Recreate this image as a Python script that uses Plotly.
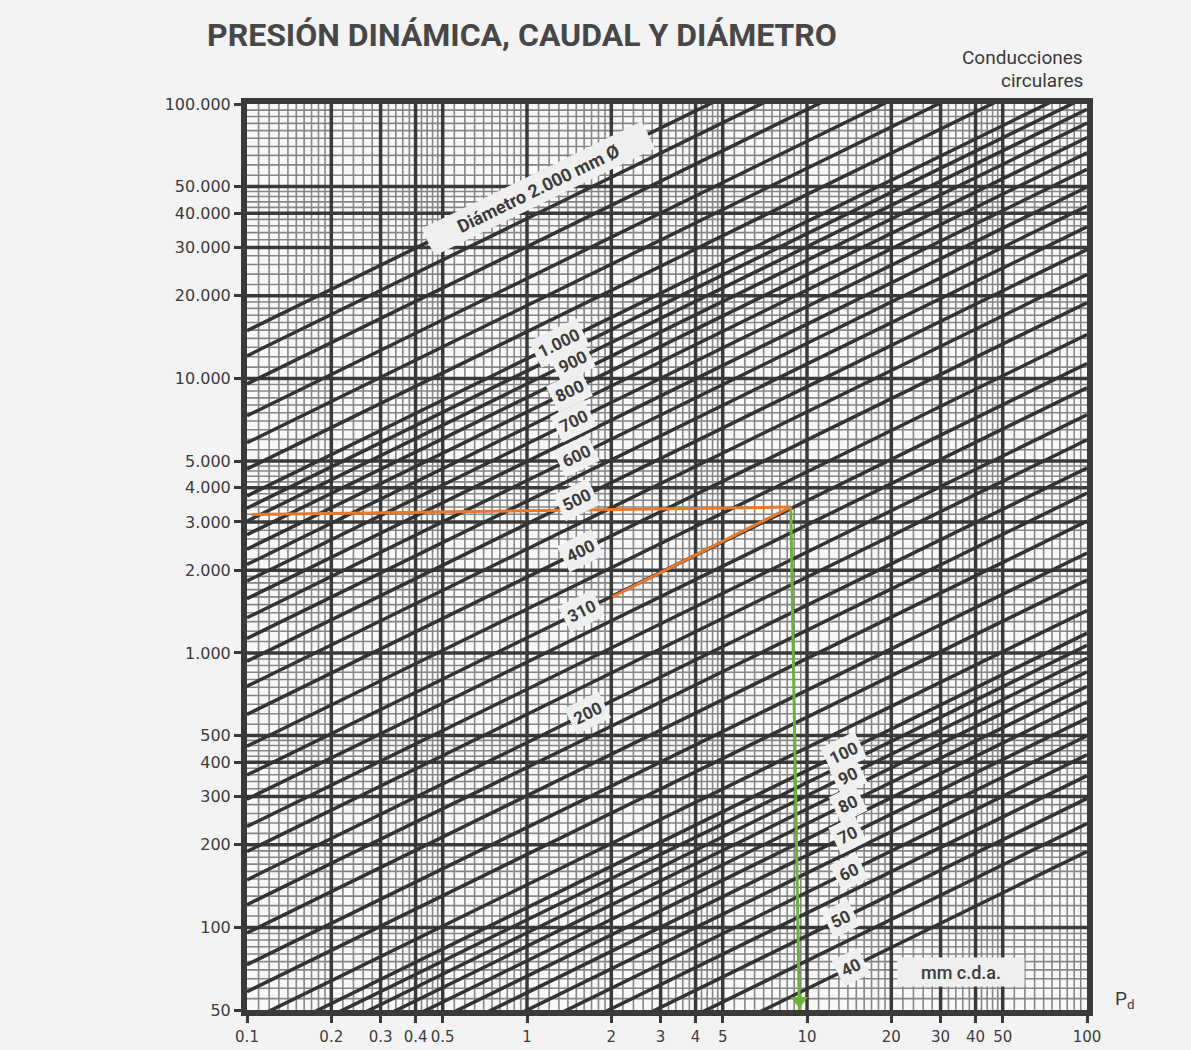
import math
import plotly.graph_objects as go

# Duct diameters (mm) and the flow (m3/h) each line reaches at Pd = 0.1 and Pd = 100 mm c.d.a.
diam_mm = [40, 45, 50, 55, 60, 65, 70, 75, 80, 85, 90, 95, 100, 110, 125, 140, 160, 180,
           200, 225, 250, 280, 310, 350, 400, 450, 500, 550, 600, 650, 700, 750, 800,
           850, 900, 950, 1000, 1120, 1250, 1400, 1600, 1800, 2000]
q_at_pd_01 = [5.97, 7.56, 9.33, 11.3, 13.4, 15.8, 18.3, 21.0, 23.9, 27.0, 30.2, 33.7,
              37.3, 45.2, 58.3, 73.1, 95.5, 121, 149, 189, 233, 293, 359, 457, 597,
              756, 933, 1129, 1343, 1577, 1828, 2099, 2388, 2696, 3022, 3368, 3731,
              4681, 5830, 7313, 9553, 12090, 14930]
q_at_pd_100 = [189, 239, 295, 357, 425, 499, 578, 664, 755, 853, 956, 1065, 1180, 1428,
               1844, 2313, 3021, 3823, 4720, 5974, 7375, 9251, 11340, 14455, 18880,
               23900, 29500, 35695, 42480, 49855, 57820, 66375, 75520, 85255, 95580,
               106500, 118000, 148000, 184400, 231300, 302100, 382300, 472000]

# Labelled lines: text shown and the Pd where the label sits on its line
line_labels = ["1.000", "900", "800", "700", "600", "500", "400", "310", "200",
               "100", "90", "80", "70", "60", "50", "40"]
label_diam = [1000, 900, 800, 700, 600, 500, 400, 310, 200, 100, 90, 80, 70, 60, 50, 40]
label_pd = [1.3, 1.45, 1.42, 1.47, 1.5, 1.5, 1.55, 1.57, 1.65,
            13.5, 14.0, 14.0, 14.0, 14.1, 13.2, 14.4]

# Worked example: 310 mm duct at about 3.400 m3/h
example_h_pd = [0.104, 8.75]
example_h_q = [3190, 3400]
example_d_pd = [2.02, 8.75]
example_d_q = [1600, 3400]
example_v_pd = [8.75, 9.39]
example_v_q = [3400, 50]

# Axis ticks
pd_ticks = [0.1, 0.2, 0.3, 0.4, 0.5, 1, 2, 3, 4, 5, 10, 20, 30, 40, 50, 100]
pd_tick_text = ["0.1", "0.2", "0.3", "0.4", "0.5", "1", "2", "3", "4", "5",
                "10", "20", "30", "40", "50", "100"]
q_ticks = [50, 100, 200, 300, 400, 500, 1000, 2000, 3000, 4000, 5000,
           10000, 20000, 30000, 40000, 50000, 100000]
q_tick_text = ["50", "100", "200", "300", "400", "500", "1.000", "2.000", "3.000",
               "4.000", "5.000", "10.000", "20.000", "30.000", "40.000", "50.000",
               "100.000"]

# Fine ruling inside each decade (mantissas)
minor_mant = [1.1, 1.2, 1.3, 1.4, 1.5, 1.6, 1.7, 1.8, 1.9,
              2.2, 2.4, 2.6, 2.8, 3.2, 3.4, 3.6, 3.8, 4.2, 4.4, 4.6, 4.8,
              5.5, 6, 6.5, 7, 7.5, 8, 8.5, 9, 9.5]

X_MIN, X_MAX = 0.1, 100
Y_MIN, Y_MAX = 50, 100000

DARK = "#3a3a3a"
GRID_MINOR = "#868686"


def minor_values(lo, hi):
    vals = []
    for e in range(-3, 7):
        for m in minor_mant:
            v = m * 10 ** e
            if lo < v < hi:
                vals.append(v)
    return vals


def rule_trace(xs_v, ys_h, color, width):
    xs, ys = [], []
    for v in xs_v:
        xs += [v, v, None]
        ys += [Y_MIN, Y_MAX, None]
    for v in ys_h:
        xs += [X_MIN, X_MAX, None]
        ys += [v, v, None]
    return go.Scatter(x=xs, y=ys, mode="lines", hoverinfo="skip",
                      line=dict(color=color, width=width), showlegend=False)


fig = go.Figure()
fig.add_trace(rule_trace(minor_values(X_MIN, X_MAX), minor_values(Y_MIN, Y_MAX), GRID_MINOR, 1.6))
fig.add_trace(rule_trace(pd_ticks[1:-1], q_ticks[1:-1], DARK, 3.5))

# Diameter lines
dx, dy = [], []
for q0, q1 in zip(q_at_pd_01, q_at_pd_100):
    dx += [X_MIN, X_MAX, None]
    dy += [q0, q1, None]
fig.add_trace(go.Scatter(x=dx, y=dy, mode="lines", hoverinfo="skip",
                         line=dict(color="#333333", width=3.5), showlegend=False))

# Example path
ORANGE = "#e8792b"
GREEN = "#6ab23e"
fig.add_trace(go.Scatter(x=example_h_pd, y=example_h_q, mode="lines",
                         line=dict(color=ORANGE, width=3), showlegend=False))
fig.add_trace(go.Scatter(x=example_d_pd, y=example_d_q, mode="lines",
                         line=dict(color=ORANGE, width=3), showlegend=False))
fig.add_trace(go.Scatter(x=example_v_pd, y=example_v_q, mode="lines",
                         line=dict(color=GREEN, width=3), showlegend=False))
fig.add_trace(go.Scatter(x=[example_v_pd[1]], y=[54], mode="markers", cliponaxis=False,
                         marker=dict(symbol="triangle-down", size=15, color=GREEN),
                         showlegend=False))


def q_on_line(d, pd):
    i = diam_mm.index(d)
    a, b = math.log10(q_at_pd_01[i]), math.log10(q_at_pd_100[i])
    t = (math.log10(pd) - math.log10(X_MIN)) / (math.log10(X_MAX) - math.log10(X_MIN))
    return a + t * (b - a)


ANGLE = -26
LABEL_BG = "#efefef"
annotations = []
for txt, d, pd in zip(line_labels, label_diam, label_pd):
    annotations.append(dict(
        x=math.log10(pd), y=q_on_line(d, pd), xref="x", yref="y", text=txt,
        showarrow=False, textangle=ANGLE, bgcolor=LABEL_BG, borderpad=4,
        font=dict(family="Roboto", size=17, color="#3c3c3c", weight="bold")))

annotations.append(dict(
    x=math.log10(1.095), y=q_on_line(2000, 1.095), xref="x", yref="y",
    text="Diámetro 2.000 mm Ø", showarrow=False, textangle=ANGLE,
    bgcolor=LABEL_BG, width=236, borderpad=4,
    font=dict(family="Roboto", size=18, color="#3c3c3c", weight="bold")))

annotations.append(dict(
    x=math.log10(35.6), y=math.log10(68.5), xref="x", yref="y", text="mm c.d.a.",
    showarrow=False, bgcolor=LABEL_BG, width=124, height=26,
    font=dict(family="Roboto", size=18, color="#3c3c3c", weight=500)))

annotations.append(dict(
    x=-0.05, y=1.076, xref="paper", yref="paper", xanchor="left", yanchor="middle",
    text="PRESIÓN DINÁMICA, CAUDAL Y DIÁMETRO", showarrow=False,
    font=dict(family="Roboto", size=32, color="#474747", weight="bold")))
annotations.append(dict(
    x=0.9976, y=1.051, xref="paper", yref="paper", xanchor="right", yanchor="middle",
    text="Conducciones", showarrow=False,
    font=dict(family="Roboto", size=19, color="#3a3a3a")))
annotations.append(dict(
    x=0.9976, y=1.0255, xref="paper", yref="paper", xanchor="right", yanchor="middle",
    text="circulares", showarrow=False,
    font=dict(family="Roboto", size=19, color="#3a3a3a")))
annotations.append(dict(
    x=1.045, y=0.012, xref="paper", yref="paper", xanchor="center", yanchor="middle",
    text="P<sub>d</sub>", showarrow=False,
    font=dict(family="Roboto", size=19, color="#3a3a3a")))

tick_font_y = dict(family="DejaVu Sans", size=16, color="#3c3c3c")
tick_font_x = dict(family="DejaVu Sans", size=15, color="#3c3c3c")
fig.update_layout(
    width=1191, height=1050,
    margin=dict(l=247, r=104, t=104, b=40),
    paper_bgcolor="#f3f3f3", plot_bgcolor="#f8f8f8",
    annotations=annotations,
    xaxis=dict(type="log", range=[math.log10(X_MIN), math.log10(X_MAX)],
               tickvals=pd_ticks, ticktext=pd_tick_text, showgrid=False, zeroline=False,
               showline=True, mirror=True, linewidth=6, linecolor=DARK,
               ticks="outside", ticklen=7, tickwidth=3, tickcolor=DARK,
               tickangle=0, automargin=False,
               ticklabelstandoff=1, tickfont=tick_font_x),
    yaxis=dict(type="log", range=[math.log10(Y_MIN), math.log10(Y_MAX)],
               tickvals=q_ticks, ticktext=q_tick_text, showgrid=False, zeroline=False,
               showline=True, mirror=True, linewidth=6, linecolor=DARK,
               ticks="outside", ticklen=7, tickwidth=3, tickcolor=DARK,
               tickangle=0, automargin=False,
               tickfont=tick_font_y),
)

fig.write_html("out.html")
